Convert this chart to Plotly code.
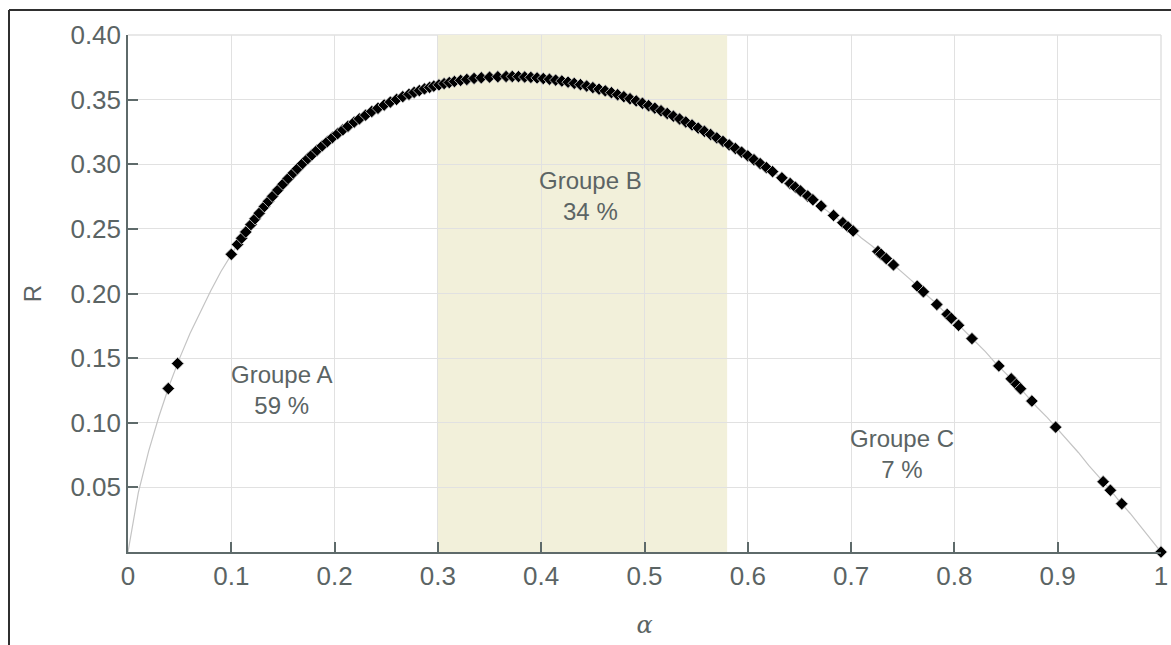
import plotly.graph_objects as go

# ---- data ----
curve_alpha = [0.00, 0.01, 0.02, 0.03, 0.04, 0.05, 0.06, 0.07, 0.08, 0.09,
               0.10, 0.11, 0.12, 0.13, 0.14, 0.15, 0.16, 0.17, 0.18, 0.19,
               0.20, 0.21, 0.22, 0.23, 0.24, 0.25, 0.26, 0.27, 0.28, 0.29,
               0.30, 0.31, 0.32, 0.33, 0.34, 0.35, 0.36, 0.37, 0.38, 0.39,
               0.40, 0.41, 0.42, 0.43, 0.44, 0.45, 0.46, 0.47, 0.48, 0.49,
               0.50, 0.51, 0.52, 0.53, 0.54, 0.55, 0.56, 0.57, 0.58, 0.59,
               0.60, 0.61, 0.62, 0.63, 0.64, 0.65, 0.66, 0.67, 0.68, 0.69,
               0.70, 0.71, 0.72, 0.73, 0.74, 0.75, 0.76, 0.77, 0.78, 0.79,
               0.80, 0.81, 0.82, 0.83, 0.84, 0.85, 0.86, 0.87, 0.88, 0.89,
               0.90, 0.91, 0.92, 0.93, 0.94, 0.95, 0.96, 0.97, 0.98, 0.99, 1.00]
curve_R = [0.000, 0.046, 0.078, 0.105, 0.129, 0.150, 0.169, 0.186, 0.202, 0.217,
           0.230, 0.243, 0.254, 0.265, 0.275, 0.285, 0.293, 0.301, 0.309, 0.316,
           0.322, 0.328, 0.333, 0.338, 0.343, 0.347, 0.350, 0.354, 0.356, 0.359,
           0.361, 0.363, 0.365, 0.366, 0.367, 0.367, 0.368, 0.368, 0.368, 0.367,
           0.367, 0.366, 0.365, 0.363, 0.361, 0.359, 0.357, 0.355, 0.352, 0.350,
           0.347, 0.343, 0.340, 0.336, 0.333, 0.329, 0.325, 0.320, 0.316, 0.311,
           0.306, 0.302, 0.296, 0.291, 0.286, 0.280, 0.274, 0.268, 0.262, 0.256,
           0.250, 0.243, 0.237, 0.230, 0.223, 0.216, 0.209, 0.201, 0.194, 0.186,
           0.179, 0.171, 0.163, 0.155, 0.146, 0.138, 0.130, 0.121, 0.112, 0.104,
           0.095, 0.086, 0.077, 0.067, 0.058, 0.049, 0.039, 0.030, 0.020, 0.010, 0.000]

point_alpha = [0.039, 0.048, 0.100, 0.106, 0.110, 0.114, 0.119, 0.123, 0.127, 0.132,
               0.136, 0.140, 0.145, 0.150, 0.155, 0.160, 0.164, 0.169, 0.174, 0.178,
               0.183, 0.188, 0.193, 0.198, 0.203, 0.208, 0.213, 0.219, 0.224, 0.230,
               0.236, 0.242, 0.248, 0.254, 0.260, 0.266, 0.272, 0.277, 0.282, 0.287,
               0.292, 0.296, 0.301, 0.306, 0.311, 0.316, 0.322, 0.328, 0.335, 0.342,
               0.350, 0.358, 0.366, 0.372, 0.378, 0.384, 0.390, 0.396, 0.402, 0.408,
               0.414, 0.420, 0.426, 0.432, 0.438, 0.444, 0.450, 0.456, 0.462, 0.468,
               0.474, 0.480, 0.486, 0.492, 0.498, 0.504, 0.510, 0.516, 0.522, 0.528,
               0.534, 0.540, 0.546, 0.552, 0.558, 0.564, 0.570, 0.576, 0.582, 0.588,
               0.594, 0.600, 0.606, 0.612, 0.618, 0.624, 0.633, 0.641, 0.646, 0.651,
               0.658, 0.663, 0.671, 0.683, 0.692, 0.697, 0.702, 0.726, 0.729, 0.734,
               0.741, 0.764, 0.770, 0.783, 0.793, 0.797, 0.804, 0.817, 0.843, 0.855,
               0.860, 0.864, 0.875, 0.898, 0.944, 0.951, 0.962, 1.000]
point_R = [0.1265, 0.1458, 0.2303, 0.2379, 0.2428, 0.2476, 0.2533, 0.2578, 0.2621, 0.2673,
           0.2713, 0.2753, 0.2800, 0.2846, 0.2890, 0.2932, 0.2965, 0.3005, 0.3043, 0.3072,
           0.3108, 0.3142, 0.3175, 0.3207, 0.3237, 0.3266, 0.3294, 0.3326, 0.3351, 0.3380,
           0.3408, 0.3433, 0.3458, 0.3481, 0.3502, 0.3523, 0.3541, 0.3556, 0.3570, 0.3583,
           0.3595, 0.3604, 0.3614, 0.3624, 0.3632, 0.3640, 0.3649, 0.3656, 0.3664, 0.3669,
           0.3674, 0.3677, 0.3679, 0.3679, 0.3678, 0.3675, 0.3672, 0.3668, 0.3663, 0.3658,
           0.3651, 0.3644, 0.3635, 0.3626, 0.3616, 0.3605, 0.3593, 0.3581, 0.3568, 0.3554,
           0.3538, 0.3523, 0.3507, 0.3490, 0.3472, 0.3453, 0.3434, 0.3414, 0.3393, 0.3372,
           0.3350, 0.3327, 0.3304, 0.3280, 0.3255, 0.3230, 0.3204, 0.3177, 0.3150, 0.3122,
           0.3094, 0.3065, 0.3035, 0.3005, 0.2974, 0.2943, 0.2895, 0.2851, 0.2823, 0.2794,
           0.2754, 0.2725, 0.2677, 0.2604, 0.2548, 0.2516, 0.2484, 0.2325, 0.2304, 0.2270,
           0.2221, 0.2057, 0.2013, 0.1915, 0.1839, 0.1808, 0.1754, 0.1651, 0.1440, 0.1340,
           0.1297, 0.1263, 0.1168, 0.0966, 0.0544, 0.0478, 0.0373, 0.0000]

band_B = [0.30, 0.58]

group_labels = ["Groupe A<br>59 %", "Groupe B<br>34 %", "Groupe C<br>7 %"]
group_alpha = [0.149, 0.448, 0.749]
group_R = [0.125, 0.2755, 0.0758]

x_ticks = [0, 0.1, 0.2, 0.3, 0.4, 0.5, 0.6, 0.7, 0.8, 0.9, 1.0]
x_ticktext = ["0", "0.1", "0.2", "0.3", "0.4", "0.5", "0.6", "0.7", "0.8", "0.9", "1"]
y_ticks = [0.05, 0.10, 0.15, 0.20, 0.25, 0.30, 0.35, 0.40]
y_ticktext = ["0.05", "0.10", "0.15", "0.20", "0.25", "0.30", "0.35", "0.40"]

# ---- style ----
AXIS_COL = "#5e6a6a"
TEXT_COL = "#5b6464"
GRID_COL = "#e1e1e1"
FONT = "Liberation Sans, Arial, sans-serif"

W, H = 1171, 645
ML, MR, MT, MB = 128, 10, 35, 93
PW, PH = W - ML - MR, H - MT - MB


def px_x(p):
    return (p - ML) / PW


def px_y(p):
    return (H - MB - p) / PH


fig = go.Figure()

fig.add_trace(go.Scatter(
    x=curve_alpha, y=curve_R, mode="lines",
    line=dict(color="#c4c4c4", width=1.2),
    hoverinfo="skip", showlegend=False,
))
fig.add_trace(go.Scatter(
    x=point_alpha, y=point_R, mode="markers",
    marker=dict(symbol="diamond", size=9.5, color="black",
                line=dict(color="#d0d0d0", width=0.8)),
    cliponaxis=False,
    showlegend=False,
))

shapes = [
    dict(type="rect", xref="x", yref="y", x0=band_B[0], x1=band_B[1], y0=0, y1=0.40,
         fillcolor="#f2f0da", line=dict(width=0), layer="below"),
    # light box lines at top and right of the plot area
    dict(type="line", xref="paper", yref="paper", x0=0, x1=1, y0=1, y1=1,
         line=dict(color=GRID_COL, width=1.5), layer="below"),
    dict(type="line", xref="paper", yref="paper", x0=1, x1=1, y0=0, y1=1,
         line=dict(color=GRID_COL, width=1.5), layer="below"),
    # outer frame (top and left edges)
    dict(type="line", xref="paper", yref="paper", x0=px_x(9), x1=px_x(1172),
         y0=px_y(10), y1=px_y(10), line=dict(color="#2f2f2f", width=2)),
    dict(type="line", xref="paper", yref="paper", x0=px_x(9), x1=px_x(9),
         y0=px_y(10), y1=px_y(646), line=dict(color="#2f2f2f", width=2)),
]
fig.update_layout(shapes=shapes)

for t, a, r in zip(group_labels, group_alpha, group_R):
    fig.add_annotation(x=a, y=r, xref="x", yref="y", text=t, showarrow=False,
                       font=dict(family=FONT, size=24, color=TEXT_COL),
                       align="center")

fig.update_xaxes(
    range=[0, 1], tickvals=x_ticks, ticktext=x_ticktext,
    showgrid=True, gridcolor=GRID_COL, gridwidth=1,
    showline=True, linecolor=AXIS_COL, linewidth=1.5,
    ticks="inside", ticklen=10, tickcolor=AXIS_COL, tickwidth=1.5,
    tickfont=dict(family=FONT, size=26, color=TEXT_COL),
    zeroline=False,
    title=dict(text="<i>α</i>", standoff=26,
               font=dict(family="DejaVu Serif, serif", size=24, color=TEXT_COL)),
)
fig.update_yaxes(
    range=[0, 0.40], tickvals=y_ticks, ticktext=y_ticktext,
    showgrid=True, gridcolor=GRID_COL, gridwidth=1,
    showline=True, linecolor=AXIS_COL, linewidth=1.5,
    ticks="inside", ticklen=10, tickcolor=AXIS_COL, tickwidth=1.5,
    tickfont=dict(family=FONT, size=26, color=TEXT_COL),
    zeroline=False,
    title=dict(text="R", standoff=22,
               font=dict(family=FONT, size=24, color=TEXT_COL)),
)

fig.update_layout(
    width=W, height=H,
    margin=dict(l=ML, r=MR, t=MT, b=MB, autoexpand=False),
    plot_bgcolor="white", paper_bgcolor="white",
    showlegend=False,
)

fig.write_html("out.html",
               config={"displayModeBar": False},
               post_script="document.body.style.margin='0';document.body.style.overflow='hidden';")
